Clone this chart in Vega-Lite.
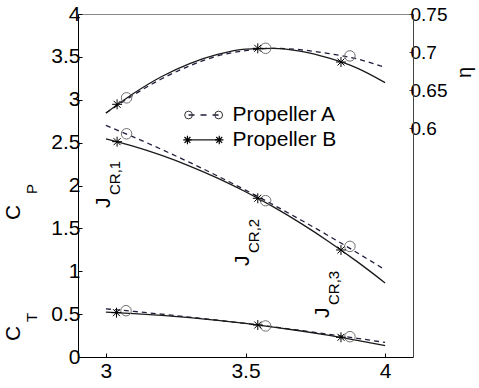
{
  "$schema": "https://vega.github.io/schema/vega-lite/v6.json",
  "width": 335,
  "height": 343,
  "autosize": {"type": "none"},
  "padding": {"left": 78, "top": 14, "right": 66, "bottom": 31},
  "config": {
    "view": {"stroke": null},
    "font": "Liberation Sans",
    "axis": {"labelFont": "Liberation Sans", "labelColor": "#000", "grid": false, "labelFlush": false, "title": null}
  },
  "datasets": {
    "curves": [
      {"J": 3.0, "v": 0.620, "q": "eta", "p": "B"}, {"J": 3.1, "v": 0.646, "q": "eta", "p": "B"}, {"J": 3.2, "v": 0.668, "q": "eta", "p": "B"}, {"J": 3.3, "v": 0.685, "q": "eta", "p": "B"}, {"J": 3.4, "v": 0.697, "q": "eta", "p": "B"}, {"J": 3.5, "v": 0.704, "q": "eta", "p": "B"}, {"J": 3.6, "v": 0.705, "q": "eta", "p": "B"}, {"J": 3.7, "v": 0.701, "q": "eta", "p": "B"}, {"J": 3.8, "v": 0.692, "q": "eta", "p": "B"}, {"J": 3.9, "v": 0.679, "q": "eta", "p": "B"}, {"J": 4.0, "v": 0.660, "q": "eta", "p": "B"},
      {"J": 3.0, "v": 0.620, "q": "eta", "p": "A"}, {"J": 3.1, "v": 0.644, "q": "eta", "p": "A"}, {"J": 3.2, "v": 0.665, "q": "eta", "p": "A"}, {"J": 3.3, "v": 0.682, "q": "eta", "p": "A"}, {"J": 3.4, "v": 0.695, "q": "eta", "p": "A"}, {"J": 3.5, "v": 0.702, "q": "eta", "p": "A"}, {"J": 3.6, "v": 0.705, "q": "eta", "p": "A"}, {"J": 3.7, "v": 0.703, "q": "eta", "p": "A"}, {"J": 3.8, "v": 0.698, "q": "eta", "p": "A"}, {"J": 3.9, "v": 0.691, "q": "eta", "p": "A"}, {"J": 4.0, "v": 0.680, "q": "eta", "p": "A"},
      {"J": 3.0, "v": 2.544, "q": "CP", "p": "B"}, {"J": 3.1, "v": 2.456, "q": "CP", "p": "B"}, {"J": 3.2, "v": 2.351, "q": "CP", "p": "B"}, {"J": 3.3, "v": 2.227, "q": "CP", "p": "B"}, {"J": 3.4, "v": 2.086, "q": "CP", "p": "B"}, {"J": 3.5, "v": 1.927, "q": "CP", "p": "B"}, {"J": 3.6, "v": 1.750, "q": "CP", "p": "B"}, {"J": 3.7, "v": 1.555, "q": "CP", "p": "B"}, {"J": 3.8, "v": 1.342, "q": "CP", "p": "B"}, {"J": 3.9, "v": 1.112, "q": "CP", "p": "B"}, {"J": 4.0, "v": 0.864, "q": "CP", "p": "B"},
      {"J": 3.0, "v": 2.700, "q": "CP", "p": "A"}, {"J": 3.1, "v": 2.564, "q": "CP", "p": "A"}, {"J": 3.2, "v": 2.420, "q": "CP", "p": "A"}, {"J": 3.3, "v": 2.269, "q": "CP", "p": "A"}, {"J": 3.4, "v": 2.111, "q": "CP", "p": "A"}, {"J": 3.5, "v": 1.946, "q": "CP", "p": "A"}, {"J": 3.6, "v": 1.774, "q": "CP", "p": "A"}, {"J": 3.7, "v": 1.595, "q": "CP", "p": "A"}, {"J": 3.8, "v": 1.409, "q": "CP", "p": "A"}, {"J": 3.9, "v": 1.216, "q": "CP", "p": "A"}, {"J": 4.0, "v": 1.017, "q": "CP", "p": "A"},
      {"J": 3.0, "v": 0.523, "q": "CT", "p": "B"}, {"J": 3.1, "v": 0.506, "q": "CT", "p": "B"}, {"J": 3.2, "v": 0.485, "q": "CT", "p": "B"}, {"J": 3.3, "v": 0.459, "q": "CT", "p": "B"}, {"J": 3.4, "v": 0.427, "q": "CT", "p": "B"}, {"J": 3.5, "v": 0.391, "q": "CT", "p": "B"}, {"J": 3.6, "v": 0.349, "q": "CT", "p": "B"}, {"J": 3.7, "v": 0.303, "q": "CT", "p": "B"}, {"J": 3.8, "v": 0.251, "q": "CT", "p": "B"}, {"J": 3.9, "v": 0.195, "q": "CT", "p": "B"}, {"J": 4.0, "v": 0.133, "q": "CT", "p": "B"},
      {"J": 3.0, "v": 0.562, "q": "CT", "p": "A"}, {"J": 3.1, "v": 0.532, "q": "CT", "p": "A"}, {"J": 3.2, "v": 0.499, "q": "CT", "p": "A"}, {"J": 3.3, "v": 0.465, "q": "CT", "p": "A"}, {"J": 3.4, "v": 0.429, "q": "CT", "p": "A"}, {"J": 3.5, "v": 0.391, "q": "CT", "p": "A"}, {"J": 3.6, "v": 0.351, "q": "CT", "p": "A"}, {"J": 3.7, "v": 0.308, "q": "CT", "p": "A"}, {"J": 3.8, "v": 0.264, "q": "CT", "p": "A"}, {"J": 3.9, "v": 0.218, "q": "CT", "p": "A"}, {"J": 4.0, "v": 0.170, "q": "CT", "p": "A"}
    ],
    "markers": [
      {"J": 3.074, "v": 2.603, "q": "CP", "p": "A"}, {"J": 3.572, "v": 1.823, "q": "CP", "p": "A"}, {"J": 3.874, "v": 1.29, "q": "CP", "p": "A"},
      {"J": 3.072, "v": 0.540, "q": "CT", "p": "A"}, {"J": 3.572, "v": 0.362, "q": "CT", "p": "A"}, {"J": 3.874, "v": 0.237, "q": "CT", "p": "A"},
      {"J": 3.074, "v": 0.640, "q": "eta", "p": "A"}, {"J": 3.572, "v": 0.705, "q": "eta", "p": "A"}, {"J": 3.874, "v": 0.695, "q": "eta", "p": "A"},
      {"J": 3.04, "v": 2.511, "q": "CP", "p": "B"}, {"J": 3.544, "v": 1.851, "q": "CP", "p": "B"}, {"J": 3.842, "v": 1.248, "q": "CP", "p": "B"},
      {"J": 3.038, "v": 0.517, "q": "CT", "p": "B"}, {"J": 3.544, "v": 0.373, "q": "CT", "p": "B"}, {"J": 3.842, "v": 0.230, "q": "CT", "p": "B"},
      {"J": 3.04, "v": 0.6315, "q": "eta", "p": "B"}, {"J": 3.544, "v": 0.705, "q": "eta", "p": "B"}, {"J": 3.842, "v": 0.687, "q": "eta", "p": "B"}
    ],
    "legendLines": [
      {"J": 3.296, "J2": 3.404, "v": 2.822, "p": "A"},
      {"J": 3.292, "J2": 3.406, "v": 2.531, "p": "B"}
    ],
    "legendPts": [
      {"J": 3.296, "v": 2.822, "p": "A"}, {"J": 3.404, "v": 2.822, "p": "A"},
      {"J": 3.292, "v": 2.531, "p": "B"}, {"J": 3.406, "v": 2.531, "p": "B"}
    ],
    "legendText": [
      {"J": 3.453, "v": 2.822, "text": "Propeller A"},
      {"J": 3.453, "v": 2.531, "text": "Propeller B"}
    ],
    "bigLabels": [
      {"J": 2.691, "v": 1.598, "text": "C"},
      {"J": 2.691, "v": 0.187, "text": "C"},
      {"J": 3.0144, "v": 1.738, "text": "J"},
      {"J": 3.514, "v": 1.061, "text": "J"},
      {"J": 3.799, "v": 0.455, "text": "J"}
    ],
    "subLabels": [
      {"J": 2.752, "v": 1.901, "text": "P"},
      {"J": 2.752, "v": 0.408, "text": "T"},
      {"J": 3.050, "v": 1.889, "text": "CR,1"},
      {"J": 3.550, "v": 1.213, "text": "CR,2"},
      {"J": 3.835, "v": 0.606, "text": "CR,3"}
    ]
  },
  "layer": [
    {
      "encoding": {
        "x": {"field": "J", "type": "quantitative", "scale": {"domain": [2.9, 4.1], "nice": false, "zero": false},
          "axis": {"orient": "bottom", "values": [3, 3.5, 4], "format": ".1~f", "tickSize": -4, "labelPadding": 7, "domainColor": "#000", "tickColor": "#000", "labelFontSize": 21}},
        "y": {"field": "v", "type": "quantitative", "scale": {"domain": [0, 4], "nice": false, "zero": false},
          "axis": {"orient": "left", "values": [0, 0.5, 1, 1.5, 2, 2.5, 3, 3.5, 4], "format": ".1~f", "tickSize": -4, "labelPadding": 2, "domainColor": "#000", "tickColor": "#000", "labelFontSize": 21}}
      },
      "layer": [
        {"data": {"name": "curves"}, "transform": [{"filter": "datum.q != 'eta' && datum.p == 'A'"}],
          "mark": {"type": "line", "interpolate": "monotone", "color": "#1e1e3c", "strokeWidth": 1.3, "strokeDash": [5, 4]},
          "encoding": {"detail": {"field": "q", "type": "nominal"}}},
        {"data": {"name": "curves"}, "transform": [{"filter": "datum.q != 'eta' && datum.p == 'B'"}],
          "mark": {"type": "line", "interpolate": "monotone", "color": "#1a1a1a", "strokeWidth": 1.3},
          "encoding": {"detail": {"field": "q", "type": "nominal"}}},
        {"data": {"name": "markers"}, "transform": [{"filter": "datum.q != 'eta' && datum.p == 'A'"}],
          "mark": {"type": "point", "shape": "circle", "size": 110, "filled": false, "stroke": "#707070", "strokeWidth": 1, "opacity": 1}},
        {"data": {"name": "markers"}, "transform": [{"filter": "datum.q != 'eta' && datum.p == 'B'"}],
          "mark": {"type": "point", "shape": "M-1,0L1,0M0,-1L0,1M-0.7,-0.7L0.7,0.7M-0.7,0.7L0.7,-0.7", "size": 100, "filled": false, "stroke": "#000", "strokeWidth": 1, "opacity": 1}},
        {"data": {"name": "legendLines"}, "transform": [{"filter": "datum.p == 'A'"}],
          "mark": {"type": "rule", "color": "#1e1e3c", "strokeWidth": 1.3, "strokeDash": [6, 6]},
          "encoding": {"x2": {"field": "J2"}}},
        {"data": {"name": "legendLines"}, "transform": [{"filter": "datum.p == 'B'"}],
          "mark": {"type": "rule", "color": "#1a1a1a", "strokeWidth": 1.3},
          "encoding": {"x2": {"field": "J2"}}},
        {"data": {"name": "legendPts"}, "transform": [{"filter": "datum.p == 'A'"}],
          "mark": {"type": "point", "shape": "circle", "size": 60, "filled": false, "stroke": "#333", "strokeWidth": 1, "opacity": 1}},
        {"data": {"name": "legendPts"}, "transform": [{"filter": "datum.p == 'B'"}],
          "mark": {"type": "point", "shape": "M-1,0L1,0M0,-1L0,1M-0.7,-0.7L0.7,0.7M-0.7,0.7L0.7,-0.7", "size": 70, "filled": false, "stroke": "#000", "strokeWidth": 1.2, "opacity": 1}},
        {"data": {"name": "legendText"},
          "mark": {"type": "text", "align": "left", "baseline": "middle", "fontSize": 21, "color": "#000"},
          "encoding": {"text": {"field": "text"}}},
        {"data": {"name": "bigLabels"},
          "mark": {"type": "text", "align": "left", "baseline": "alphabetic", "fontSize": 21, "color": "#000"},
          "encoding": {"text": {"field": "text"}, "angle": {"value": 270}}},
        {"data": {"name": "subLabels"},
          "mark": {"type": "text", "align": "left", "baseline": "alphabetic", "fontSize": 15, "color": "#000"},
          "encoding": {"text": {"field": "text"}, "angle": {"value": 270}}}
      ]
    },
    {
      "encoding": {
        "x": {"field": "J", "type": "quantitative", "scale": {"domain": [2.9, 4.1], "nice": false, "zero": false},
          "axis": {"orient": "top", "labels": false, "ticks": false, "domainColor": "#888"}},
        "y": {"field": "v", "type": "quantitative", "scale": {"domain": [0.3, 0.75], "nice": false, "zero": false},
          "axis": {"orient": "right", "values": [0.6, 0.65, 0.7, 0.75], "format": ".2~f", "tickSize": -4, "labelPadding": 1, "domainColor": "#444", "tickColor": "#444", "labelFontSize": 19,
            "title": "η", "titleAngle": 270, "titleFontSize": 20, "titleFontWeight": "normal", "titleFont": "Liberation Sans", "titleColor": "#000", "titleX": 57, "titleY": 58, "titleBaseline": "alphabetic", "titleAlign": "center"}}
      },
      "layer": [
        {"data": {"name": "curves"}, "transform": [{"filter": "datum.q == 'eta' && datum.p == 'A'"}],
          "mark": {"type": "line", "interpolate": "monotone", "color": "#1e1e3c", "strokeWidth": 1.3, "strokeDash": [5, 4]}},
        {"data": {"name": "curves"}, "transform": [{"filter": "datum.q == 'eta' && datum.p == 'B'"}],
          "mark": {"type": "line", "interpolate": "monotone", "color": "#1a1a1a", "strokeWidth": 1.3}},
        {"data": {"name": "markers"}, "transform": [{"filter": "datum.q == 'eta' && datum.p == 'A'"}],
          "mark": {"type": "point", "shape": "circle", "size": 110, "filled": false, "stroke": "#707070", "strokeWidth": 1, "opacity": 1}},
        {"data": {"name": "markers"}, "transform": [{"filter": "datum.q == 'eta' && datum.p == 'B'"}],
          "mark": {"type": "point", "shape": "M-1,0L1,0M0,-1L0,1M-0.7,-0.7L0.7,0.7M-0.7,0.7L0.7,-0.7", "size": 100, "filled": false, "stroke": "#000", "strokeWidth": 1, "opacity": 1}}
      ]
    }
  ],
  "resolve": {"scale": {"y": "independent"}, "axis": {"x": "independent"}}
}
